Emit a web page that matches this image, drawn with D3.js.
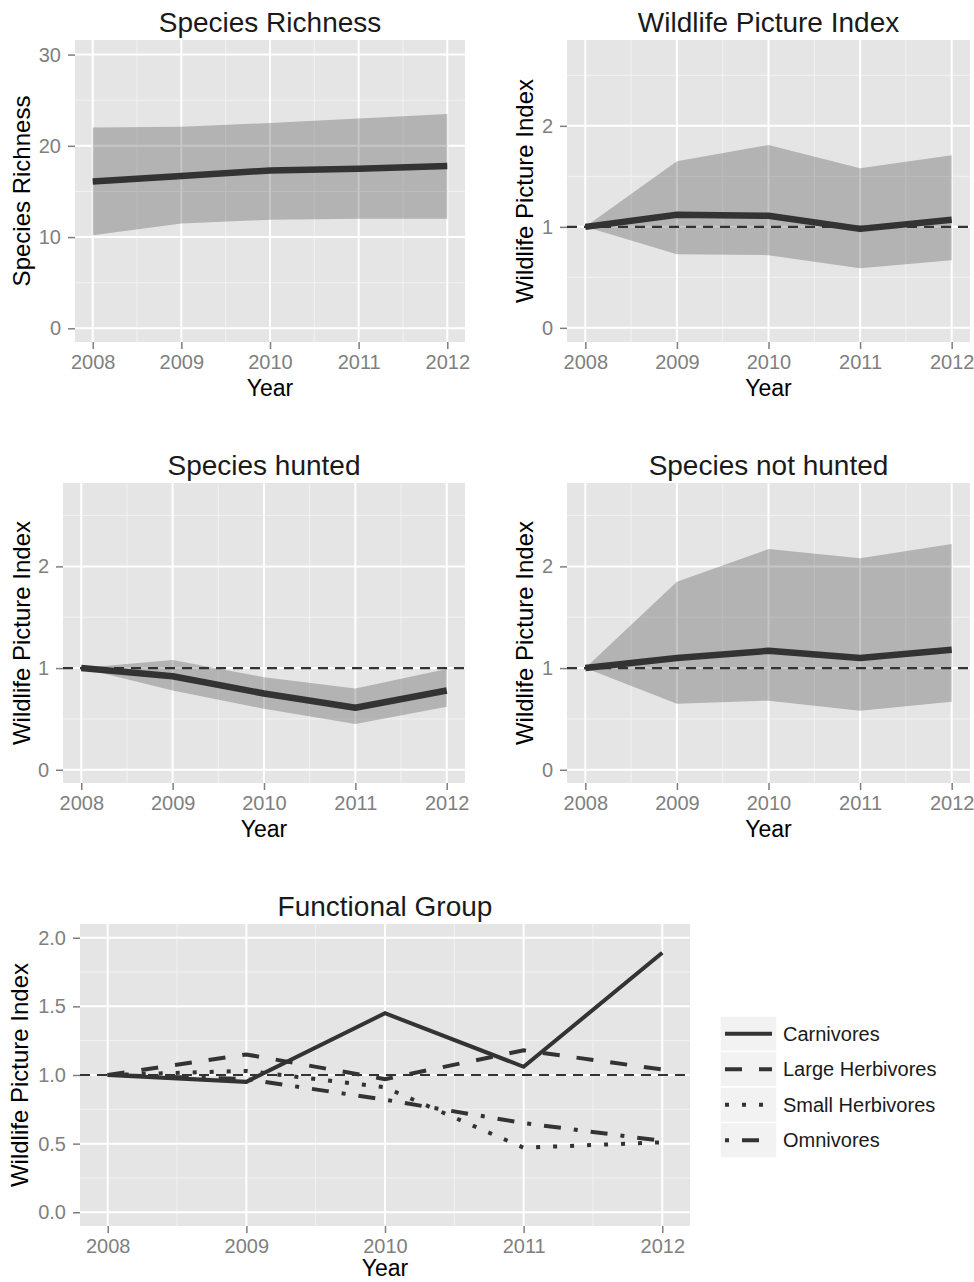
<!DOCTYPE html>
<html>
<head>
<meta charset="utf-8">
<script src="https://cdn.jsdelivr.net/npm/d3@7"></script>
<style>
  body { margin: 0; background: #fff; }
  text { font-family: "Liberation Sans", Arial, sans-serif; }
</style>
</head>
<body>
<svg id="chart"></svg>
<script>
// Data
const years = [2008, 2009, 2010, 2011, 2012];

const richMean = [16.1, 16.7, 17.3, 17.5, 17.8];
const richLo   = [10.2, 11.5, 11.9, 12.0, 12.0];
const richHi   = [22.0, 22.1, 22.5, 23.0, 23.5];

const wpiMean = [1.0, 1.12, 1.11, 0.98, 1.07];
const wpiLo   = [1.0, 0.73, 0.72, 0.59, 0.67];
const wpiHi   = [1.0, 1.65, 1.81, 1.58, 1.71];

const huntMean = [1.0, 0.92, 0.75, 0.61, 0.78];
const huntLo   = [1.0, 0.78, 0.60, 0.45, 0.62];
const huntHi   = [1.0, 1.08, 0.91, 0.80, 0.99];

const notHuntMean = [1.0, 1.10, 1.17, 1.10, 1.18];
const notHuntLo   = [1.0, 0.65, 0.68, 0.58, 0.67];
const notHuntHi   = [1.0, 1.85, 2.17, 2.08, 2.22];

const groupNames = ["Carnivores", "Large Herbivores", "Small Herbivores", "Omnivores"];
const carnivores = [1.0, 0.95, 1.45, 1.06, 1.89];
const largeHerb  = [1.0, 1.15, 0.97, 1.18, 1.04];
const smallHerb  = [1.0, 1.03, 0.91, 0.47, 0.51];
const omnivores  = [1.0, 0.97, 0.82, 0.65, 0.52];

const richTicks = [0, 10, 20, 30];
const wpiTicks = [0, 1, 2];
const groupTicks = [0, 0.5, 1, 1.5, 2];

// Layout
const width = 974;
const height = 1282;

const svg = d3.select("#chart")
    .attr("width", width)
    .attr("height", height);

const dashes = {
    "Carnivores": null,
    "Large Herbivores": "17,17",
    "Small Herbivores": "4,13",
    "Omnivores": "4,13,17,13"
};

function drawPanel(p) {
    const x = d3.scaleLinear().domain([2007.8, 2012.2]).range([p.x0, p.x1]);
    const y = d3.scaleLinear().domain(p.yDomain).range([p.y1, p.y0]);
    const g = svg.append("g");

    g.append("rect")
        .attr("x", p.x0).attr("y", p.y0)
        .attr("width", p.x1 - p.x0).attr("height", p.y1 - p.y0)
        .attr("fill", "#e5e5e5");

    // minor grid
    g.selectAll(".minor-y").data(p.minor).join("line")
        .attr("x1", p.x0).attr("x2", p.x1)
        .attr("y1", d => y(d)).attr("y2", d => y(d))
        .attr("stroke", "#f2f2f2").attr("stroke-width", 1);
    g.selectAll(".minor-x").data([2008.5, 2009.5, 2010.5, 2011.5]).join("line")
        .attr("y1", p.y0).attr("y2", p.y1)
        .attr("x1", d => x(d)).attr("x2", d => x(d))
        .attr("stroke", "#f2f2f2").attr("stroke-width", 1);

    // major grid
    g.selectAll(".major-y").data(p.ticks).join("line")
        .attr("x1", p.x0).attr("x2", p.x1)
        .attr("y1", d => y(d)).attr("y2", d => y(d))
        .attr("stroke", "#fff").attr("stroke-width", 2);
    g.selectAll(".major-x").data(years).join("line")
        .attr("y1", p.y0).attr("y2", p.y1)
        .attr("x1", d => x(d)).attr("x2", d => x(d))
        .attr("stroke", "#fff").attr("stroke-width", 2);

    // axes
    const xAxis = d3.axisBottom(x).tickValues(years).tickFormat(d3.format("d"))
        .tickSize(7).tickPadding(6);
    const gx = g.append("g").attr("transform", `translate(0,${p.y1})`).call(xAxis);
    const yAxis = d3.axisLeft(y).tickValues(p.ticks).tickFormat(p.fmt)
        .tickSize(7).tickPadding(7);
    const gy = g.append("g").attr("transform", `translate(${p.x0},0)`).call(yAxis);
    [gx, gy].forEach(a => {
        a.select(".domain").remove();
        a.selectAll(".tick line").attr("stroke", "#7f7f7f").attr("stroke-width", 1.5);
        a.selectAll(".tick text").attr("fill", "#7f7f7f").style("font-size", "20px")
            .style("font-family", "'Liberation Sans', Arial, sans-serif");
    });

    // titles
    g.append("text")
        .attr("x", (p.x0 + p.x1) / 2).attr("y", p.y0 - 8)
        .attr("text-anchor", "middle").attr("fill", "#1a1a1a")
        .style("font-size", "28px").text(p.title);
    g.append("text")
        .attr("x", (p.x0 + p.x1) / 2).attr("y", p.y1 + (p.yearGap || 54))
        .attr("text-anchor", "middle").attr("fill", "#000")
        .style("font-size", "23px").text("Year");
    g.append("text")
        .attr("transform", `translate(${p.ylabX},${(p.y0 + p.y1) / 2}) rotate(-90)`)
        .attr("dy", "0.35em")
        .attr("text-anchor", "middle").attr("fill", "#000")
        .style("font-size", "24px").text(p.ylab);

    return { g, x, y };
}

function ribbonPanel(p, mean, lo, hi) {
    const { g, x, y } = drawPanel(p);
    const rows = years.map((yr, i) => ({ yr, m: mean[i], lo: lo[i], hi: hi[i] }));

    g.append("path")
        .datum(rows)
        .attr("d", d3.area().x(d => x(d.yr)).y0(d => y(d.lo)).y1(d => y(d.hi)))
        .attr("fill", "#333").attr("fill-opacity", 0.28);

    if (p.ref) {
        g.append("line")
            .attr("x1", p.x0).attr("x2", p.x1)
            .attr("y1", y(1)).attr("y2", y(1))
            .attr("stroke", "#333").attr("stroke-width", 2.2)
            .attr("stroke-dasharray", "10,7");
    }

    g.append("path")
        .datum(rows)
        .attr("d", d3.line().x(d => x(d.yr)).y(d => y(d.m)))
        .attr("fill", "none").attr("stroke", "#333")
        .attr("stroke-width", 6.5).attr("stroke-linejoin", "round");
}

ribbonPanel({
    title: "Species Richness", ylab: "Species Richness",
    x0: 75, x1: 465, y0: 40, y1: 342, ylabX: 22,
    yDomain: [-1.5, 31.6], ticks: richTicks, minor: [5, 15, 25], fmt: d3.format("d"), ref: false
}, richMean, richLo, richHi);

ribbonPanel({
    title: "Wildlife Picture Index", ylab: "Wildlife Picture Index",
    x0: 567, x1: 970, y0: 40, y1: 342, ylabX: 525,
    yDomain: [-0.14, 2.85], ticks: wpiTicks, minor: [0.5, 1.5, 2.5], fmt: d3.format("d"), ref: true
}, wpiMean, wpiLo, wpiHi);

ribbonPanel({
    title: "Species hunted", ylab: "Wildlife Picture Index",
    x0: 63, x1: 465, y0: 483, y1: 783, ylabX: 22,
    yDomain: [-0.13, 2.82], ticks: wpiTicks, minor: [0.5, 1.5, 2.5], fmt: d3.format("d"), ref: true
}, huntMean, huntLo, huntHi);

ribbonPanel({
    title: "Species not hunted", ylab: "Wildlife Picture Index",
    x0: 567, x1: 970, y0: 483, y1: 783, ylabX: 525,
    yDomain: [-0.13, 2.82], ticks: wpiTicks, minor: [0.5, 1.5, 2.5], fmt: d3.format("d"), ref: true
}, notHuntMean, notHuntLo, notHuntHi);

// Functional group panel
const groupSeries = [carnivores, largeHerb, smallHerb, omnivores];
const fp = {
    title: "Functional Group", ylab: "Wildlife Picture Index",
    x0: 80, x1: 690, y0: 924, y1: 1226, ylabX: 20, yearGap: 50,
    yDomain: [-0.10, 2.10], ticks: groupTicks, minor: [0.25, 0.75, 1.25, 1.75], fmt: d3.format(".1f")
};
const fg = drawPanel(fp);

fg.g.append("line")
    .attr("x1", fp.x0).attr("x2", fp.x1)
    .attr("y1", fg.y(1)).attr("y2", fg.y(1))
    .attr("stroke", "#333").attr("stroke-width", 1.8)
    .attr("stroke-dasharray", "10,7");

groupNames.forEach((name, k) => {
    fg.g.append("path")
        .datum(groupSeries[k])
        .attr("d", d3.line().x((d, i) => fg.x(years[i])).y(d => fg.y(d)))
        .attr("fill", "none").attr("stroke", "#333")
        .attr("stroke-width", 4)
        .attr("stroke-dasharray", dashes[name]);
});

// Legend
const legend = svg.append("g").attr("transform", "translate(720,1016)");
const rowH = 35.5;
groupNames.forEach((name, k) => {
    const row = legend.append("g").attr("transform", `translate(0,${k * rowH})`);
    row.append("rect")
        .attr("width", 57).attr("height", rowH)
        .attr("fill", "#f2f2f2").attr("stroke", "#fff").attr("stroke-width", 1.5);
    row.append("line")
        .attr("x1", 5).attr("x2", 52)
        .attr("y1", rowH / 2).attr("y2", rowH / 2)
        .attr("stroke", "#333").attr("stroke-width", 4)
        .attr("stroke-dasharray", dashes[name]);
    row.append("text")
        .attr("x", 63).attr("y", rowH / 2).attr("dy", "0.35em")
        .attr("fill", "#1a1a1a")
        .style("font-size", "20px").text(name);
});
</script>
</body>
</html>
